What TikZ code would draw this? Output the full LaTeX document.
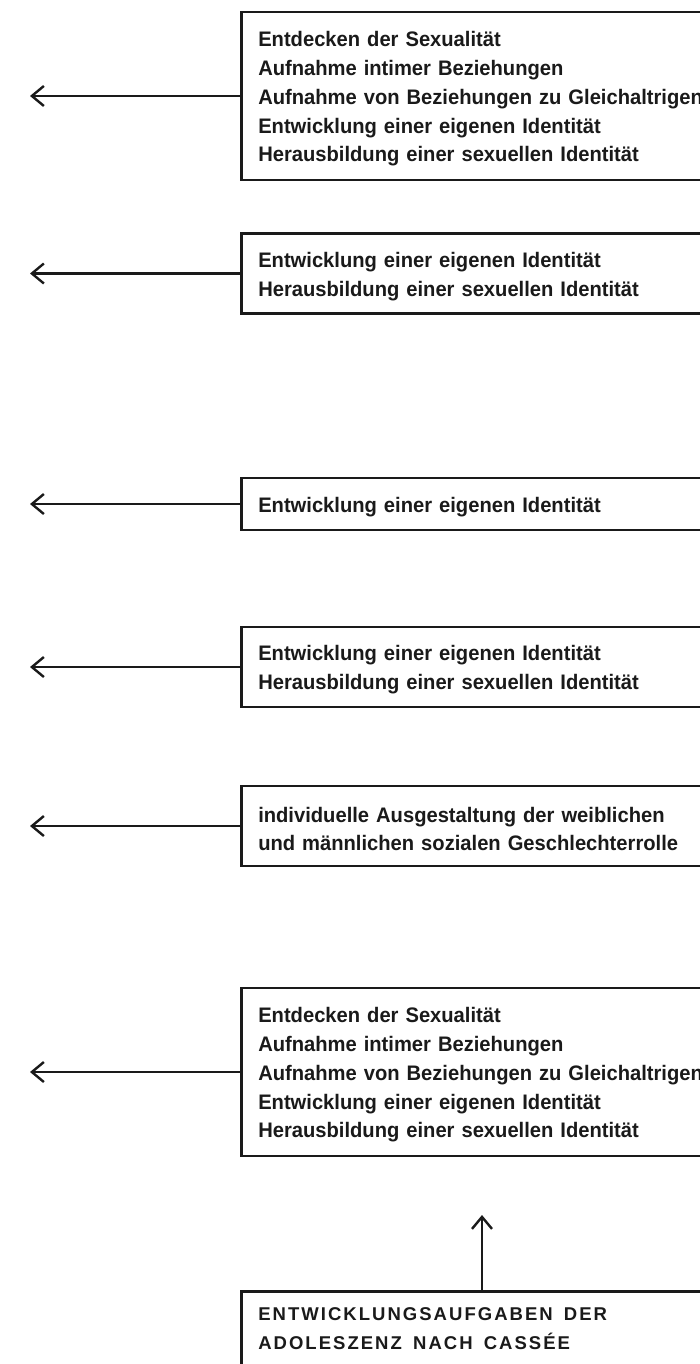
\documentclass[tikz,border=0pt]{standalone}
\usepackage{fontspec}
\setmainfont{Liberation Sans}
\newfontfamily\bodyf{Liberation Sans}[FakeStretch=0.96]
\newfontfamily\headf{Liberation Sans}[LetterSpace=11]
\newcommand\hsp{\ \hspace{5pt}}
\usetikzlibrary{arrows.meta}
\definecolor{ink}{HTML}{1A1A1A}
\begin{document}
\begin{tikzpicture}[x=1pt,y=-1pt,
  tbox/.style={draw=ink, line width=2.5pt, anchor=west, align=left, text width=500pt,
    inner xsep=17pt, inner ysep=0pt, text=ink,
    font=\bodyf\bfseries\fontsize{21pt}{28.75pt}\selectfont,
    execute at begin node={\rule{0pt}{21pt}}},
  hbox/.style={draw=ink, line width=2.5pt, anchor=north west, align=left, text width=500pt,
    inner xsep=17pt, inner ysep=16pt, text=ink,
    font=\headf\bfseries\fontsize{18.5pt}{29pt}\selectfont},
  larr/.style={draw=ink, line width=2.4pt, -{Straight Barb[length=12pt,width=20pt]}}]
\useasboundingbox (0,0) rectangle (700,1364);
\fill[white] (0,0) rectangle (700,1364);
\clip (0,0) rectangle (700,1364);

\node[tbox, minimum height=168pt] (b1) at (240,96)
  {Entdecken der Sexualität\\Aufnahme intimer Beziehungen\\Aufnahme von Beziehungen zu Gleichaltrigen\\Entwicklung einer eigenen Identität\\Herausbildung einer sexuellen Identität};
\node[tbox, minimum height=80pt] (b2) at (240,273.5)
  {Entwicklung einer eigenen Identität\\Herausbildung einer sexuellen Identität};
\node[tbox, minimum height=52pt] (b3) at (240,504)
  {Entwicklung einer eigenen Identität};
\node[tbox, minimum height=80pt] (b4) at (240,667)
  {Entwicklung einer eigenen Identität\\Herausbildung einer sexuellen Identität};
\node[tbox, minimum height=80pt] (b5) at (240,826)
  {individuelle Ausgestaltung der weiblichen\\und männlichen sozialen Geschlechterrolle};
\node[tbox, minimum height=168pt] (b6) at (240,1072)
  {Entdecken der Sexualität\\Aufnahme intimer Beziehungen\\Aufnahme von Beziehungen zu Gleichaltrigen\\Entwicklung einer eigenen Identität\\Herausbildung einer sexuellen Identität};
\node[hbox] (b7) at (240,1290)
  {ENTWICKLUNGSAUFGABEN\hsp DER\\ADOLESZENZ\hsp NACH\hsp CASSÉE\rule[-40pt]{0pt}{1pt}};

\coordinate (t1) at (30,96);
\coordinate (t2) at (30,273.5);
\coordinate (t3) at (30,504);
\coordinate (t4) at (30,667);
\coordinate (t5) at (30,826);
\coordinate (t6) at (30,1072);
\coordinate (tu) at (482,1215);

\draw[larr] (b1.west) -- (t1);
\draw[larr] (b2.west) -- (t2);
\draw[larr] (b3.west) -- (t3);
\draw[larr] (b4.west) -- (t4);
\draw[larr] (b5.west) -- (t5);
\draw[larr] (b6.west) -- (t6);
\draw[larr] (b7.north -| tu) -- (tu);
\end{tikzpicture}
\end{document}
